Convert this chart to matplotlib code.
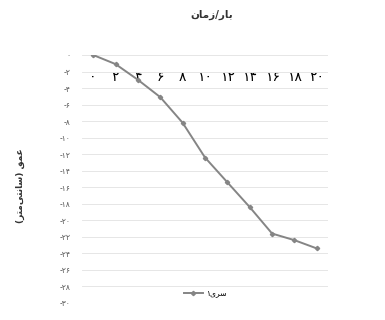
import matplotlib
matplotlib.use("Agg")
import matplotlib.pyplot as plt
from matplotlib.lines import Line2D

plt.rcParams['font.family'] = ['DejaVu Sans']

# Persian digits
FA = str.maketrans("0123456789", "۰۱۲۳۴۵۶۷۸۹")

def fa(n):
    s = str(abs(n)).translate(FA)
    return ("-" + s) if n < 0 else s

# data
x_labels = [0, 2, 4, 6, 8, 10, 12, 14, 16, 18, 20]
depth = [0.0, -1.1, -3.0, -5.1, -8.2, -12.4, -15.4, -18.4, -21.6, -22.4, -23.4]
y_ticks = list(range(0, -31, -2))

# Arabic-script strings in visual (shaped) order
title_txt = "\uFEE5\uFE8E\uFEE3\uFEAF/\uFEAD\uFE8E\uFE91"      # بار/زمان
ylabel_txt = "(\uFEAE\uFE98\uFEE3\uFEF0\uFE98\uFEE7\uFE8E\uFEB3) \uFED6\uFEE4\uFECB"  # عمق (سانتیمتر)
series_txt = "۱\uFEEF\uFEAE\uFEB3"                               # سری۱

W, H = 385, 320
fig = plt.figure(figsize=(W / 100, H / 100), dpi=100)
fig.patch.set_facecolor("white")

# plot area in pixels: x 82..328, y 55..303
left, right, top, bottom = 82, 328, 55, 303
ax = fig.add_axes([left / W, 1 - bottom / H, (right - left) / W, (bottom - top) / H])

xs = list(range(len(x_labels)))
ax.plot(xs, depth, color="#858585", lw=1.4, marker="D", ms=2.2,
        mfc="#858585", mec="#858585", zorder=3)

ax.set_xlim(-0.5, len(x_labels) - 0.5)
ax.set_ylim(-30, 0)
ax.set_yticks(y_ticks)
ax.set_yticklabels([fa(v) for v in y_ticks], fontsize=5.5, color="#555555")
ax.set_xticks(xs)
ax.set_xticklabels([fa(v) for v in x_labels], fontsize=5.5, color="#555555")

# category axis sits at y = 0 (top), labels below it
ax.spines['bottom'].set_position(('data', 0))
for s in ['top', 'right', 'left', 'bottom']:
    ax.spines[s].set_visible(False)
ax.tick_params(axis='x', length=0, pad=11)
ax.tick_params(axis='y', length=0, pad=8)

ax.grid(axis='y', color="#e6e6e6", lw=0.7)
ax.set_axisbelow(True)

fig.text(212 / W, 1 - 15 / H, title_txt, ha="center", va="center",
         fontsize=7.5, color="#333333", fontweight="bold")
fig.text(20 / W, 1 - 186 / H, ylabel_txt, ha="center", va="center",
         rotation=90, fontsize=6.5, color="#333333", fontweight="bold")

handle = Line2D([], [], color="#858585", lw=1.4, marker="D", ms=2.2,
                mfc="#858585", mec="#858585")
fig.legend([handle], [series_txt], loc="center", bbox_to_anchor=(205 / W, 1 - 293 / H),
           frameon=False, fontsize=5.5, handlelength=2.5, handletextpad=0.4)

fig.savefig("out.png", dpi=100)
